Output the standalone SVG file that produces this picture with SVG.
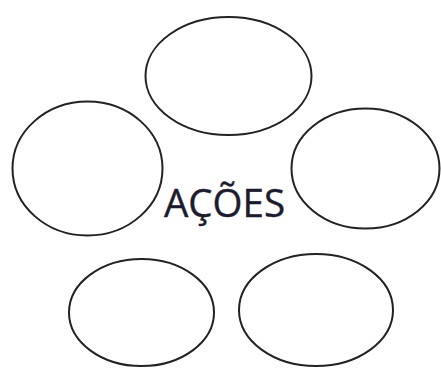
<svg xmlns="http://www.w3.org/2000/svg" width="441" height="368" viewBox="0 0 441 368">
<style>
.n{fill:none;stroke:#222;stroke-width:2}
.t{font-family:"Open Sans","Noto Sans",sans-serif;font-size:38.5px;fill:#1c1c2e;stroke:#1c1c2e;stroke-width:0.4}
</style>
<rect width="441" height="368" fill="#fff"/>
<g id="node-top"><ellipse class="n" cx="228.5" cy="76" rx="83" ry="59"/></g>
<g id="node-left"><ellipse class="n" cx="87.5" cy="168.5" rx="75" ry="67"/></g>
<g id="node-right"><ellipse class="n" cx="365.5" cy="168.5" rx="74" ry="60"/></g>
<g id="node-bottom-left"><ellipse class="n" cx="141.5" cy="312.5" rx="72.5" ry="53.5"/></g>
<g id="node-bottom-right"><ellipse class="n" cx="316" cy="310" rx="77" ry="56"/></g>
<g id="connectors"></g>
<g id="label"><text class="t" x="164" y="217">AÇÕES</text></g>
</svg>
